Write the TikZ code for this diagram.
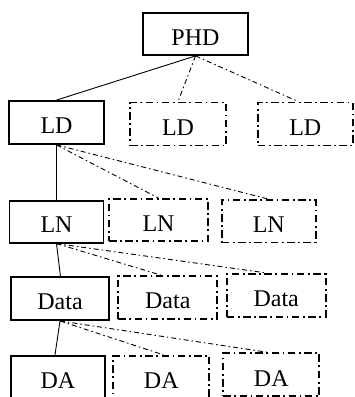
\documentclass[tikz,border=0pt]{standalone}
\usepackage{fontspec}
\setmainfont{Liberation Serif}
\begin{document}
\begin{tikzpicture}[x=1pt,y=-1pt,
  box/.style={draw, line width=1.8pt, inner sep=0pt, font=\fontsize{24}{24}\selectfont, text height=22.5pt, text depth=0pt},
  solidbox/.style={box},
  dbox/.style={box, dash pattern=on 7.5pt off 3.5pt on 1.8pt off 3.5pt},
  link/.style={line width=0.9pt},
  dlink/.style={line width=0.9pt, dash pattern=on 5pt off 3pt on 1.5pt off 3pt}]
\useasboundingbox (0,0) rectangle (355,397);
\clip (0,0) rectangle (355,397);
\node[solidbox, minimum width=105pt, minimum height=42pt] (phd) at (195.5,34) {PHD};
\node[solidbox, minimum width=95pt, minimum height=43pt] (ld1) at (56.5,122.5) {LD};
\node[dbox, minimum width=96pt, minimum height=43pt] (ld2) at (178,124) {LD};
\node[dbox, minimum width=95pt, minimum height=43pt] (ld3) at (305.3,124) {LD};
\node[solidbox, minimum width=94pt, minimum height=42pt] (ln1) at (56.5,221.7) {LN};
\node[dbox, minimum width=99pt, minimum height=42pt] (ln2) at (158.5,220) {LN};
\node[dbox, minimum width=94pt, minimum height=42.5pt] (ln3) at (268.8,221.3) {LN};
\node[solidbox, minimum width=98.5pt, minimum height=42.7pt] (da1) at (60,298.7) {Data};
\node[dbox, minimum width=99pt, minimum height=42.7pt] (da2) at (167.8,297.3) {Data};
\node[dbox, minimum width=99pt, minimum height=42.7pt] (da3) at (276.2,295.3) {Data};
\node[solidbox, minimum width=94.6pt, minimum height=43pt] (a1) at (58,377.2) {DA};
\node[dbox, minimum width=96pt, minimum height=43pt] (a2) at (161.3,377.2) {DA};
\node[dbox, minimum width=96pt, minimum height=43pt] (a3) at (271.3,374.8) {DA};
\draw[link] (phd.south) -- (ld1.north);
\draw[dlink] (phd.south) -- (ld2.north);
\draw[dlink] (phd.south) -- ([xshift=-7pt]ld3.north);
\draw[link] (ld1.south) -- (ln1.north);
\draw[dlink] (ld1.south) -- (ln2.north);
\draw[dlink] (ld1.south) -- (ln3.north);
\draw[link] (ln1.south) -- ([xshift=0.5pt]da1.north);
\draw[dlink] (ln1.south) -- ([xshift=-7pt]da2.north);
\draw[dlink] (ln1.south) -- ([xshift=-9pt]da3.north);
\draw[link] (da1.south) -- ([xshift=-3pt]a1.north);
\draw[dlink] (da1.south) -- ([xshift=2pt]a2.north);
\draw[dlink] (da1.south) -- ([xshift=-3pt]a3.north);
\end{tikzpicture}
\end{document}
